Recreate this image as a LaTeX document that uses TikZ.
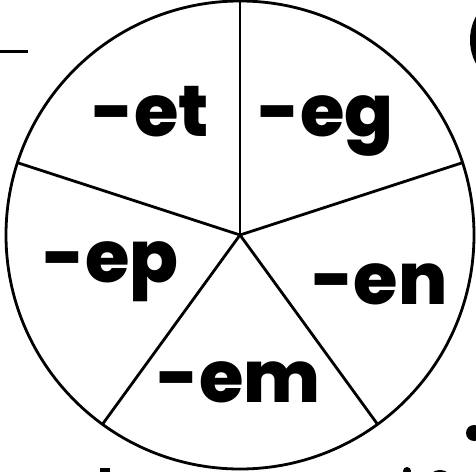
\documentclass[tikz,border=0pt]{standalone}
\usepackage{fontspec}
\setmainfont{Poppins}
\newfontfamily\heavyfont{Poppins ExtraBold}
\begin{document}
\begin{tikzpicture}[x=1pt, y=1pt, line width=2.8pt,
	sylla/.style={anchor=base, inner sep=0pt, font=\fontsize{72}{72}\heavyfont}]
	\clip (0,0) rectangle (476,471);
	\useasboundingbox (0,0) rectangle (476,471);
	
	% wheel
	\coordinate (c) at (240,236);
	\draw (c) circle (234);
	\draw (c) -- ++(90:234);
	\draw (c) -- ++(18:234);
	\draw (c) -- ++(162:234);
	\draw (c) -- ++(-54:234);
	\draw (c) -- ++(234:234);
	
	\node[sylla] (et) at (151,334){-et};
	\node[sylla] (eg) at (326,334){-eg};
	\node[sylla] (ep) at (111,188){-ep};
	\node[sylla] (en) at (380,166){-en};
	\node[sylla] (em) at (239,69){-em};
	
	% bits cut off at the edges
	\draw[line width=3pt] (0,419) -- (28,419);
	\draw[line width=8pt] (512,431) ellipse (38 and 42);
	\fill (474,38) circle (8);
	\fill (100,-6) rectangle (110,3);
	\fill (407,0) circle (4);
	\draw[line width=6pt] (440,-10) ellipse (9 and 8);
\end{tikzpicture}
\end{document}
